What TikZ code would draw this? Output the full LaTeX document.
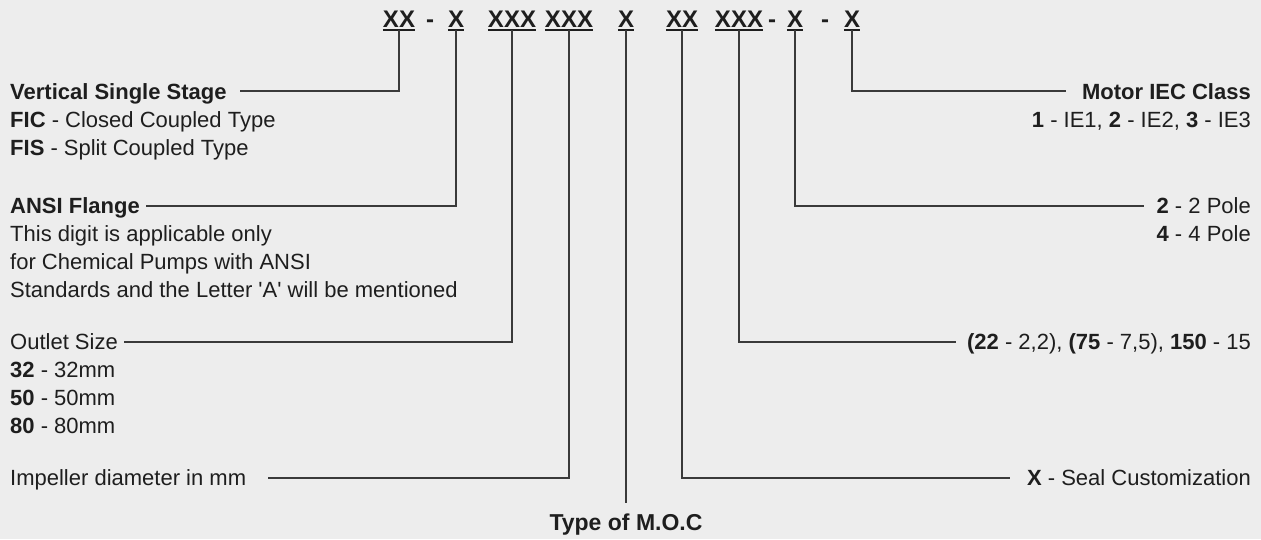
\documentclass[tikz,border=0pt]{standalone}
\usepackage{fontspec}
\newfontfamily\labfont{Liberation Sans}
\usepackage{xcolor}
\definecolor{bgc}{HTML}{EDEDED}
\definecolor{inkc}{HTML}{1E1E1E}
\definecolor{linec}{HTML}{3A3A3A}

\tikzset{
  codebox/.style={font=\labfont\fontsize{24}{24}\selectfont\bfseries, text=inkc,
    inner xsep=0pt, inner ysep=3pt, anchor=base},
  lbl/.style={font=\labfont\fontsize{22}{28}\selectfont, text=inkc,
    inner sep=0pt, anchor=base west},
  rlbl/.style={lbl, anchor=base east},
  conn/.style={draw=linec, line width=1.3pt},
  uline/.style={draw=inkc, line width=2pt}
}

\begin{document}
\begin{tikzpicture}[x=1pt, y=-1pt]
 \fill[bgc] (0,0) rectangle (1261,539);
 \useasboundingbox (0,0) rectangle (1261,539);
 % the order code
 \begin{scope}[every node/.style={codebox}]
  \node (series) at (399,27) {XX};
  \node (d1) at (430,27) {-};
  \node (flange) at (456,27) {X};
  \node (outlet) at (512,27) {XXX};
  \node (impeller) at (569,27) {XXX};
  \node (moc) at (626,27) {X};
  \node (seal) at (682,27) {XX};
  \node (power) at (739,27) {XXX};
  \node (d2) at (772,27) {-};
  \node (pole) at (795,27) {X};
  \node (d3) at (825,27) {-};
  \node (iec) at (852,27) {X};
 \end{scope}
 \foreach \n in {series,flange,outlet,impeller,moc,seal,power,pole,iec}
  \path[uline] (\n.south west) -- (\n.south east);
 % left hand labels
 \begin{scope}[every node/.style={lbl}]
  \node (serieshd) at (10,99) {\textbf{Vertical Single Stage}};
  \node (fic) at (10,127) {\textbf{FIC} - Closed Coupled Type};
  \node (fis) at (10,155) {\textbf{FIS} - Split Coupled Type};
  \node (flangehd) at (10,213) {\textbf{ANSI Flange}};
  \node (fl1) at (10,241) {This digit is applicable only};
  \node (fl2) at (10,269) {for Chemical Pumps with ANSI};
  \node (fl3) at (10,297) {Standards and the Letter 'A' will be mentioned};
  \node (outlethd) at (10,349) {Outlet Size};
  \node (o32) at (10,377) {\textbf{32} - 32mm};
  \node (o50) at (10,405) {\textbf{50} - 50mm};
  \node (o80) at (10,433) {\textbf{80} - 80mm};
  \node (impellerhd) at (10,485) {Impeller diameter in mm};
 \end{scope}
 % right hand labels
 \begin{scope}[every node/.style={rlbl}]
  \node (iechd) at (1251,99) {\textbf{Motor IEC Class}};
  \node (iec1) at (1251,127) {\textbf{1} - IE1, \textbf{2} - IE2, \textbf{3} - IE3};
  \node (p2) at (1251,213) {\textbf{2} - 2 Pole};
  \node (p4) at (1251,241) {\textbf{4} - 4 Pole};
  \node (powerhd) at (1251,349) {\textbf{(22} - 2,2), \textbf{(75} - 7,5), \textbf{150} - 15};
  \node (sealhd) at (1251,485) {\textbf{X} - Seal Customization};
 \end{scope}
 \node[lbl, anchor=base, font=\labfont\fontsize{23}{23}\selectfont\bfseries] (mochd) at (626,530) {Type of M.O.C};
 % line ends
 \coordinate (e1) at (240,91);
 \coordinate (e2) at (146,206);
 \coordinate (e3) at (124,342);
 \coordinate (e4) at (268,478);
 \coordinate (e6) at (1010,478);
 \coordinate (e7) at (956,342);
 \coordinate (e8) at (1144,206);
 \coordinate (e9) at (1066,91);
 \coordinate (e5) at (626,503);
 \path[conn] (series.south) |- (e1);
 \path[conn] (flange.south) |- (e2);
 \path[conn] (outlet.south) |- (e3);
 \path[conn] (impeller.south) |- (e4);
 \path[conn] (moc.south) -- (e5);
 \path[conn] (seal.south) |- (e6);
 \path[conn] (power.south) |- (e7);
 \path[conn] (pole.south) |- (e8);
 \path[conn] (iec.south) |- (e9);
\end{tikzpicture}
\end{document}
